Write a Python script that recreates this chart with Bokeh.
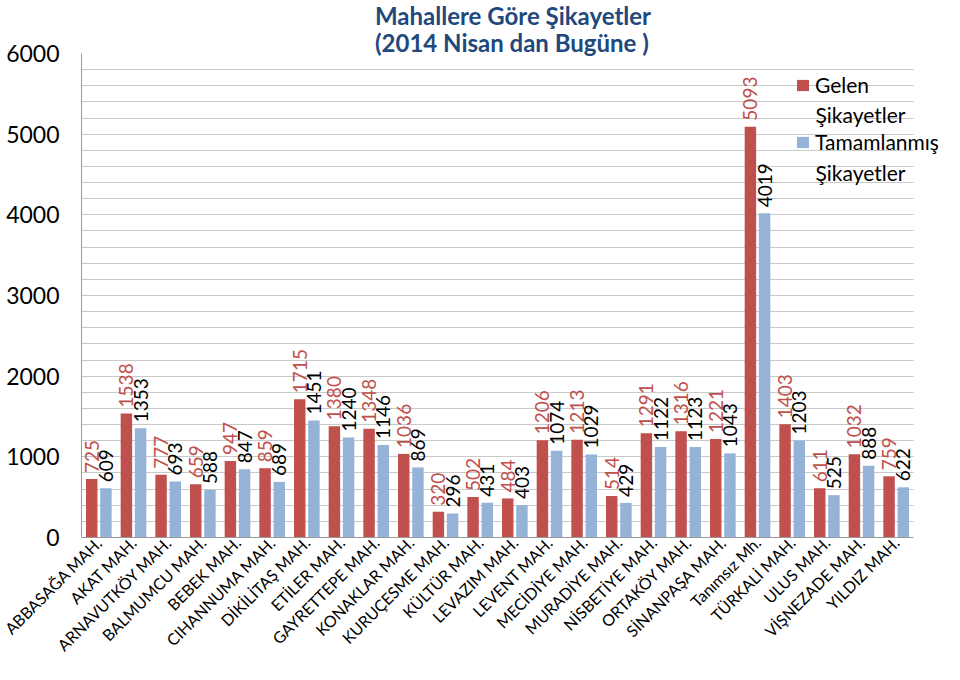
import math
from bokeh.plotting import figure
from bokeh.models import (ColumnDataSource, FixedTicker, Label, Legend, LegendItem,
                          Range1d, BoxAnnotation)
from bokeh.transform import dodge
from bokeh.core.properties import value
from bokeh.embed import file_html
from bokeh.resources import INLINE

categories = ["ABBASAĞA MAH.", "AKAT MAH.", "ARNAVUTKÖY MAH.", "BALMUMCU MAH.",
              "BEBEK MAH.", "CIHANNUMA MAH.", "DİKİLİTAŞ MAH.", "ETİLER MAH.",
              "GAYRETTEPE MAH.", "KONAKLAR MAH.", "KURUÇESME MAH.", "KÜLTÜR MAH.",
              "LEVAZIM MAH.", "LEVENT MAH.", "MECİDİYE MAH.", "MURADİYE MAH.",
              "NİSBETİYE MAH.", "ORTAKÖY MAH.", "SİNANPAŞA MAH.", "Tanımsız Mh.",
              "TÜRKALİ MAH.", "ULUS MAH.", "VİŞNEZADE MAH.", "YILDIZ MAH."]
gelen = [725, 1538, 777, 659, 947, 859, 1715, 1380, 1348, 1036, 320, 502,
         484, 1206, 1213, 514, 1291, 1316, 1221, 5093, 1403, 611, 1032, 759]
tamamlanmis = [609, 1353, 693, 588, 847, 689, 1451, 1240, 1146, 869, 296, 431,
               403, 1074, 1029, 429, 1122, 1123, 1043, 4019, 1203, 525, 888, 622]
series_names = ["Gelen Şikayetler", "Tamamlanmış Şikayetler"]
title_lines = ["Mahallere Göre Şikayetler", "(2014 Nisan dan Bugüne )"]
y_max = 6000
y_major = list(range(0, y_max + 1, 1000))
y_grid = list(range(0, y_max + 1, 200))

# layout constants
RED = "#C0504D"
BLUE = "#95B3D7"
FONT = "Lato"
N = len(categories)
X_RIGHT_ROOM = 0.894      # empty room right of the bars (for the legend), in category widths
OFF = 0.205               # half distance between the two bars of a slot
BAR_W = 0.33

centers = [i + 0.5 for i in range(N)]
src = ColumnDataSource(dict(
    xc=centers, gelen=gelen, tam=tamamlanmis,
    gelen_lbl=[str(v) for v in gelen], tam_lbl=[str(v) for v in tamamlanmis]))

p = figure(width=944, height=664, x_range=Range1d(0, N + X_RIGHT_ROOM),
           y_range=Range1d(0, y_max), output_backend="svg", toolbar_location=None,
           min_border_left=81, min_border_right=0, min_border_top=53,
           min_border_bottom=124)
p.outline_line_color = None
p.background_fill_color = "white"
p.border_fill_color = "white"

p.title.text = "\n".join(title_lines)
p.title.align = "center"
p.title.text_font = FONT
p.title.text_font_style = "bold"
p.title.text_font_size = "24px"
p.title.text_color = "#1F497D"
p.title.standoff = -8
p.title.text_line_height = 0.95

p.xgrid.visible = False
p.ygrid.ticker = FixedTicker(ticks=y_grid)
p.ygrid.grid_line_color = "#C9C9C9"
p.ygrid.grid_line_width = 1

p.yaxis.ticker = FixedTicker(ticks=y_major)
p.yaxis.major_tick_in = 0
p.yaxis.major_tick_out = 0
p.yaxis.minor_tick_line_color = None
p.yaxis.major_label_standoff = 22
p.yaxis.major_label_text_font = FONT
p.yaxis.major_label_text_font_size = "23px"
p.yaxis.major_label_text_color = "black"
p.yaxis.axis_line_color = "#9A9A9A"

p.xaxis.ticker = FixedTicker(ticks=centers)
p.xaxis.major_label_overrides = {t: name for t, name in zip(centers, categories)}
p.xaxis.bounds = (0, N)
p.xaxis.major_tick_in = 0
p.xaxis.major_tick_out = 0
p.xaxis.minor_tick_line_color = None
p.xaxis.major_label_orientation = math.pi / 4
p.xaxis.major_label_standoff = 2
p.xaxis.major_label_text_font = FONT
p.xaxis.major_label_text_font_size = "16px"
p.xaxis.major_label_text_color = "black"
p.xaxis.axis_line_color = "#9A9A9A"

r1 = p.vbar(x=dodge("xc", -OFF), top="gelen", width=BAR_W,
            source=src, fill_color=RED, line_color=None)
r2 = p.vbar(x=dodge("xc", OFF), top="tam", width=BAR_W,
            source=src, fill_color=BLUE, line_color=None)

p.text(x=dodge("xc", -OFF), y="gelen", text="gelen_lbl",
       source=src, angle=math.pi / 2, y_offset=-6, text_align="left",
       text_baseline="middle", text_font=value(FONT), text_font_size="19px",
       text_color=RED)
p.text(x=dodge("xc", OFF), y="tam", text="tam_lbl",
       source=src, angle=math.pi / 2, y_offset=-6, text_align="left",
       text_baseline="middle", text_font=value(FONT), text_font_size="19px",
       text_color="black")

# blank the grid lines in the legend room right of the last slot
p.add_layout(BoxAnnotation(left=N, fill_color="white", fill_alpha=1,
                           line_color=None, level="glyph"))

first = [s.split(" ", 1)[0] for s in series_names]
second = [s.split(" ", 1)[1] for s in series_names]
legend = Legend(items=[LegendItem(label=first[0], renderers=[r1]),
                       LegendItem(label=first[1], renderers=[r2])],
                location=(714, 381), padding=0, margin=0, spacing=28,
                border_line_color=None, background_fill_alpha=0,
                glyph_width=15, glyph_height=14, label_standoff=5,
                label_height=29, label_text_font=FONT,
                label_text_font_size="21px", label_text_color="black")
p.add_layout(legend)
for txt, yy in zip(second, (423, 365)):
    p.add_layout(Label(x=734, y=yy, x_units="screen", y_units="screen", text=txt,
                       text_align="left", text_baseline="alphabetic",
                       text_font=FONT, text_font_size="21px", text_color="black"))

open("out.html", "w").write(file_html(p, INLINE))
